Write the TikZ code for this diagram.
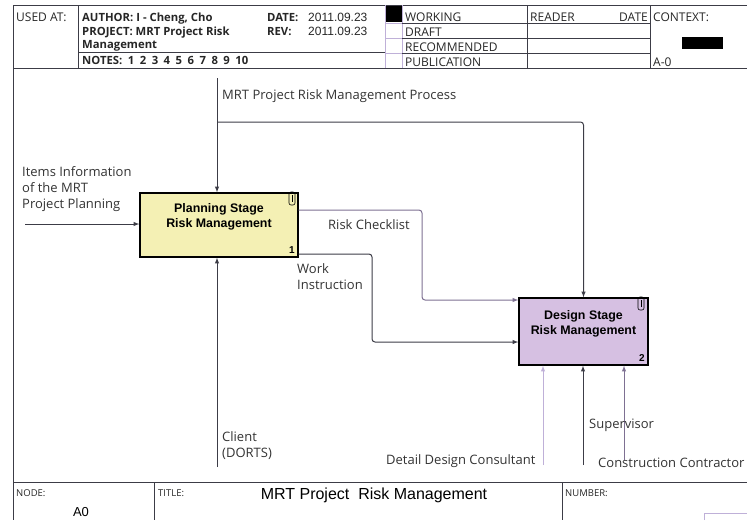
\documentclass[tikz,border=0pt]{standalone}
\usepackage{fontspec}
\setmainfont{Open Sans}
\newfontfamily\arialfont{Liberation Sans}
\usetikzlibrary{positioning}

\definecolor{planyellow}{HTML}{F4F0B4}
\definecolor{designlilac}{HTML}{D6C0E2}
\definecolor{framegray}{HTML}{3C3C46}
\definecolor{lilacline}{HTML}{BFB0D8}
\definecolor{midline}{HTML}{7E7092}

\begin{document}
\begin{tikzpicture}[x=1pt, y=-1pt,
    frame/.style={draw=framegray, line width=0.9pt},
    thinframe/.style={draw=lilacline, line width=0.6pt},
    hdr/.style={anchor=base west, inner sep=0pt, text=black!85, font=\fontsize{12}{14}\selectfont},
    hdrbold/.style={hdr, font=\bfseries\fontsize{11.3}{14}\selectfont},
    hdrval/.style={hdr, font=\arialfont\fontsize{12}{14}\selectfont},
    activity/.style={draw=black, line width=1.3pt},
    boxtext/.style={align=center, inner sep=0pt, font=\arialfont\bfseries\fontsize{12.4}{14.5}\selectfont},
    boxnum/.style={anchor=base east, inner sep=0pt, font=\arialfont\bfseries\fontsize{10}{12}\selectfont},
    flow/.style={draw=framegray, line width=1pt, -latex, rounded corners=3pt},
    lbl/.style={anchor=base west, inner sep=0pt, align=left, text=black!80, font=\fontsize{13}{16}\selectfont},
    foot/.style={anchor=base west, inner sep=0pt, text=black!85, font=\fontsize{9.5}{11}\selectfont}
]
    \useasboundingbox (0,0) rectangle (747,520);

    % header frame
    \draw[frame] (13,5) -- (747,5);
    \draw[frame] (13,68) -- (747,68);
    \draw[frame] (13,5) -- (13,520);
    \foreach \x in {78,527,650} \draw[frame] (\x,5) -- (\x,68);
    \foreach \x in {385,402} \draw[thinframe] (\x,5) -- (\x,68);
    \foreach \y in {23,38,53} \draw[framegray, line width=0.5pt] (402,\y) -- (650,\y);
    \foreach \y in {23,38,53} \draw[thinframe] (385,\y) -- (402,\y);
    \draw[framegray, line width=0.5pt] (78,52) -- (385,52);
    \fill[black] (386,6) rectangle (402,22);
    \fill[black] (682,37) rectangle (723,49);

    % header text
    \node[hdr] (usedat) at (16,21) {USED AT:};
    \node[hdrbold] (author) at (82,21) {AUTHOR: I - Cheng, Cho};
    \node[hdrbold] (project) at (82,35) {PROJECT: MRT Project Risk};
    \node[hdrbold] (projectcont) at (82,48) {Management};
    \node[hdrbold] (notes) at (82,64) {\spaceskip=5.5pt\relax NOTES: 1 2 3 4 5 6 7 8 9 10};
    \node[hdrbold] (datelbl) at (267,21) {DATE:};
    \node[hdrval] (dateval) at (308,21) {2011.09.23};
    \node[hdrbold] (revlbl) at (267,35) {REV:};
    \node[hdrval] (revval) at (308,35) {2011.09.23};
    \node[hdr] (working) at (405,21) {WORKING};
    \node[hdr] (draft) at (405,36) {DRAFT};
    \node[hdr] (recommended) at (405,51) {RECOMMENDED};
    \node[hdr] (publication) at (405,66) {PUBLICATION};
    \node[hdr] (reader) at (530,21) {READER};
    \node[hdr, anchor=base east] (readerdate) at (648,21) {DATE};
    \node[hdr] (context) at (653,21) {CONTEXT:};
    \node[hdr] (contextnode) at (653,66) {A-0};

    % activities
    \node[activity, fill=planyellow, minimum width=158pt, minimum height=64pt] (plan) at (219,225) {};
    \node[boxtext] (plantext) at ([yshift=8pt]plan.center) {Planning Stage\\Risk Management};
    \node[boxnum] (plannum) at (295,253) {1};
    \draw[line width=0.6pt, rounded corners=2pt] (289,192) rectangle (295,205);
    \draw[line width=0.5pt] (292,195) -- (292,202);

    \node[activity, fill=designlilac, minimum width=129pt, minimum height=67pt] (design) at (583.5,331.5) {};
    \node[boxtext] (designtext) at ([yshift=7.5pt]design.center) {Design Stage\\Risk Management};
    \node[boxnum] (designnum) at (645,361) {2};
    \draw[line width=0.6pt, rounded corners=2pt] (638,297) rectangle (644,310);
    \draw[line width=0.5pt] (641,300) -- (641,307);

    % control
    \coordinate (ctrltop) at (217,78);
    \coordinate (ctrlsplit) at (217,122);
    \draw[flow] (ctrltop) -- (ctrltop |- plan.north);
    \draw[flow] (ctrlsplit) -| (design.north);
    \node[lbl] (ctrllbl) at (222,99) {MRT Project Risk Management Process};

    % input
    \coordinate (instart) at (25,224);
    \draw[flow] (instart) -- (instart -| plan.west);
    \node[lbl, anchor=north west] (inlbl) at (22,166) {Items Information\\of the MRT\\Project Planning};

    % outputs of 1 into 2
    \coordinate (rcturn) at (422,210);
    \coordinate (rcin) at (0,300);
    \draw[flow, draw=midline] (plan.east |- rcturn) -- (rcturn) |- (design.west |- rcin);
    \node[lbl] (rclbl) at (328,229) {Risk Checklist};

    \coordinate (witurn) at (372,254);
    \coordinate (wiin) at (0,342);
    \draw[flow] (plan.east |- witurn) -- (witurn) |- (design.west |- wiin);
    \node[lbl, anchor=north west] (wilbl) at (297,263) {Work\\Instruction};

    % mechanisms
    \coordinate (client) at (217,467);
    \draw[flow] (client) -- (client |- plan.south);
    \node[lbl, anchor=north west] (clientlbl) at (222,431) {Client\\(DORTS)};

    \coordinate (consultant) at (543,465);
    \coordinate (supervisor) at (583,465);
    \coordinate (contractor) at (624,460);
    \draw[flow, draw=lilacline] (consultant) -- (consultant |- design.south);
    \draw[flow] (supervisor) -- (supervisor |- design.south);
    \draw[flow, draw=midline] (contractor) -- (contractor |- design.south);
    \node[lbl] (consultantlbl) at (386,464) {Detail Design Consultant};
    \node[lbl] (supervisorlbl) at (589,428) {Supervisor};
    \node[lbl] (contractorlbl) at (598,467) {Construction Contractor};

    % footer
    \draw[frame] (13,482) -- (747,482);
    \foreach \x in {154,562} \draw[frame] (\x,482) -- (\x,520);
    \draw[thinframe] (704,520) -- (704,513) -- (747,513);
    \node[foot] (nodelbl) at (16,496) {NODE:};
    \node[foot] (titlelbl) at (158,496) {TITLE:};
    \node[foot] (numberlbl) at (565,496) {NUMBER:};
    \node[anchor=base, inner sep=0pt, font=\arialfont\fontsize{13}{15}\selectfont] (nodeval) at (81,516) {A0};
    \node[anchor=base, inner sep=0pt, font=\arialfont\fontsize{16}{18}\selectfont] (title) at (374,499) {MRT Project\ \ Risk Management};
\end{tikzpicture}
\end{document}
